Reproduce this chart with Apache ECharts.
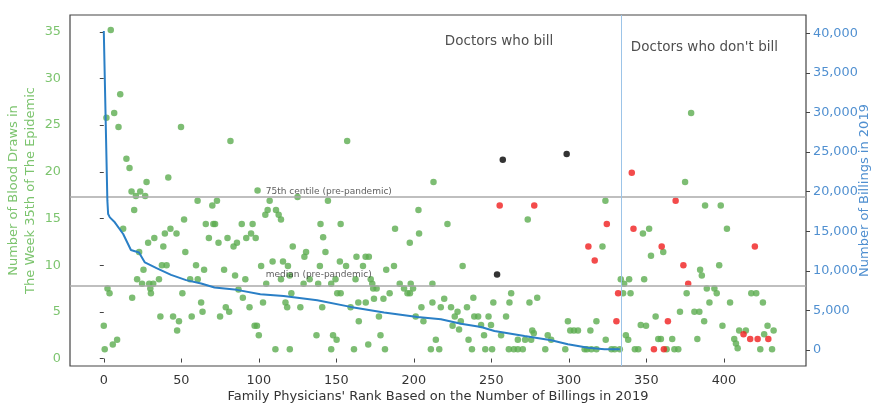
<!DOCTYPE html>
<html>
<head>
<meta charset="utf-8">
<script src="https://cdn.jsdelivr.net/npm/echarts@6/dist/echarts.min.js"></script>
<style>
html,body{margin:0;padding:0;background:#fff;}
#chart{width:873px;height:405px;}
</style>
</head>
<body>
<div id="chart"></div>
<script>
// ---- data (rank, blood draws in week 35) ----
var greenPoints = [
[4.5,35.2],[10.6,28.3],[6.7,26.3],[1.7,25.8],[9.5,24.8],[49.8,24.8],[81.7,23.3],[14.6,21.4],[16.6,20.4],[27.6,18.9],[41.6,19.4],[17.9,17.9],[20.7,17.4],[23.5,17.9],[26.7,17.4],
[60.5,16.9],[70,16.4],[73,16.9],[19.6,15.9],[12.5,13.9],[51.8,14.9],[65.8,14.4],[70.7,14.4],[71.8,14.4],[89,14.4],[96,14.4],[43,13.9],[39.4,13.4],[46.9,13.4],[32.6,12.9],[28.6,12.4],[67.8,12.9],[74,12.4],[79.8,12.9],[85.9,12.4],[83.7,12.0],[91.9,12.9],[95,13.4],[98,12.9],
[38.4,12.0],[22.8,11.4],[52.6,11.4],[37.5,10.0],[40.5,10.0],[25.6,9.5],[59.5,10.0],[64.7,9.5],[77.6,9.5],[84.7,8.9],[101.5,9.9],
[21.5,8.5],[24.7,8.0],[29.3,8.0],[31.9,8.0],[35.6,8.5],[55.7,8.5],[60.6,8.5],[91.3,8.5],[30,7.5],[30.4,7.0],[2.4,7.5],[3.7,7.0],[18.3,6.5],[50.7,7.0],[86.9,7.4],[89.7,6.5],[62.8,6.0],[63.7,5.0],[78.7,5.5],[80.9,5.0],[94,5.5],[36.5,4.5],[44.7,4.5],[48.5,4.0],[47.3,3.0],[56.7,4.5],[75,4.5],[97.3,3.5],[98.8,3.5],[100,2.5],[0,3.5],[0.6,1.0],[5.8,1.5],[8.6,2.0],
[157,23.3],[212.7,18.9],[99.2,18.0],[107,16.9],[104.2,15.4],[105.7,15.9],[111.1,15.9],[112.8,15.4],[114.3,14.9],[125,17.3],[144.6,16.9],
[139.8,14.4],[152.8,14.4],[141.5,13.0],[121.9,12.0],[187.9,13.9],[203,15.9],[203.4,13.4],[197.4,12.4],[221.7,14.4],[143,11.4],[130.5,11.4],[129.4,10.9],[108.9,10.4],[115.6,10.4],[118.8,9.9],[139.4,9.9],[152.3,10.4],[163,10.9],[168.9,10.9],[171,10.9],[156.3,9.9],[167.2,9.9],[187.2,9.9],[182.2,9.5],
[104.8,8.0],[114.3,8.5],[119.9,8.9],[128.9,8.0],[132.8,8.5],[138.3,8.0],[146.7,8.0],[149.5,8.5],[162.4,8.5],[172.2,8.5],[173.2,8.0],[173.8,7.5],[190.9,8.0],[193.7,7.5],[195.9,7.0],[197.5,7.0],[198,8.0],[199.5,7.5],[212,8.0],[121,7.0],[150.6,7.0],[152.8,7.0],[176,7.5],[174.3,6.4],[180.4,6.4],[184.4,7.0],
[102.7,6.0],[117.2,6.0],[118.3,5.5],[126.8,5.5],[140.9,5.5],[159.2,5.5],[164.2,6.0],[169,6.0],[177.5,4.5],[164.5,4.0],[201.2,4.5],[206.2,4.0],[204.9,5.5],[217.4,5.5],[219.6,6.4],[212,6.0],
[137.2,2.5],[147.9,2.5],[150.2,2.0],[170.6,1.5],[178.5,2.5],[214.2,2.0],[110.7,1.0],[120,1.0],[146.7,1.0],[161.4,1.0],[181.4,1.0],[211,1.0],[216.4,1.0],[225,3.5],
[224,5.5],[231.5,9.9],[228.2,5.0],[226.4,4.5],[229.2,3.1],[230.3,4.0],[234.3,5.5],[238.4,6.5],[239,4.5],[241.5,4.5],[243.4,3.6],[235.3,2.0],[237.5,1.0],[246.1,1.0],[250.5,1.0],[245.3,2.5],[248.2,4.5],[249.8,3.6],[251.3,6.0],[256.3,2.5],[259.5,4.5],[261.7,6.0],[262.8,7.0],[261.3,1.0],[264.5,1.0],[267.1,1.0],[270.3,1.0],[267.1,2.0],[271.8,2.0],[275.7,2.0],[276.4,3.0],[277.4,2.7],[274.6,6.0],[279.6,6.5],[284.8,1.0],[286.4,2.5],[288.6,2.0],[297.7,1.0],[299.4,4.0],[300.9,3.0],[303.3,3.0],[305.9,3.0],[313.9,3.0],[317.8,4.0],[310.2,1.0],[311.7,1.0],[314.5,1.0],[317.8,1.0],[323.8,2.0],[327.5,1.0],[329.6,1.0],[332.9,1.0],[336.8,2.5],[338.3,2.0],[342.6,1.0],[344.8,1.0],[346.4,3.6],[323.6,16.9],[273.5,14.9],[321.7,12.0],[333.5,8.5],[335.7,8.0],[338.9,8.5],[335,7.0],[339.8,7.0],
[378.9,26.3],[375,18.9],[387.9,16.4],[398,16.4],[351.8,13.9],[347.8,13.4],[402,13.9],[360.9,11.4],[353,11.0],[384.7,9.5],[385.8,8.9],[397,10.0],[348.6,8.5],[376,7.0],[389,7.5],[393.9,7.5],[395.4,7.0],[417.7,7.0],[420.9,7.0],[390.7,6.0],[404,6.0],[425.2,6.0],[371.7,5.0],[381,5.0],[384.2,5.0],[356,4.5],[387.3,4.0],[349.8,3.5],[399.1,3.5],[357.7,2.1],[359.4,2.1],[366.7,2.1],[382.9,2.1],[406.7,2.1],[407.8,1.6],[408.9,1.1],[409.9,3.0],[414.2,3.0],[426,2.6],[428.2,3.5],[432.1,3.0],[363.1,1.0],[368.1,1.0],[370.6,1.0],[423.5,1.0],[431.1,1.0]
];
var redPoints = [
[255.4,16.4],[277.7,16.4],[340.6,19.9],[324.5,14.4],[312.6,12.0],[316.7,10.5],[331.8,7.0],[330.7,4.0],[341.7,13.9],[368.9,16.9],[359.9,12.0],[420,12.0],[373.9,10.0],[377,8.0],[363.9,4.0],[354.9,1.0],[361.3,1.0],[412.7,2.6],[417,2.1],[421.8,2.1],[428.7,2.1]
];
var blackPoints = [[257.4,21.3],[298.6,21.9],[253.7,9.0]];
// ---- billings in 2019 by rank ----
var billingRank = [0,2.3,2.8,3.9,7.1,12.5,17.5,22.7,26.5,34,43.4,53.1,62.8,71.4,85.9,101,116,137.7,159.2,180.8,202.3,217.5,230.4,243.4,252,271.4,288.7,299.4,312.4,323,332.9];
var billingValue = [40300,18900,17190,16760,16130,14660,12630,12330,11060,10350,9500,8830,8400,7890,7600,7060,6840,6300,5450,4730,4180,3890,3330,2910,2410,1770,1230,720,290,90,90];
// ---- reference lines ----
var centile75 = 17.3;
var medianPre = 7.75;
var splitRank = 334;
// ---- tick labels ----
var xTicks = [0,50,100,150,200,250,300,350,400];
var yLeftTicks = [0,5,10,15,20,25,30,35];
var yRightTicks = [0,5000,10000,15000,20000,25000,30000,35000,40000];

var billingLine = billingRank.map(function(r,i){return [r,billingValue[i]];});
var FONT = 'DejaVu Sans';
var chart = echarts.init(document.getElementById('chart'));
chart.setOption({
  animation:false,
  backgroundColor:'#fff',
  textStyle:{fontFamily:FONT},
  grid:{left:70,right:67,top:15,bottom:39,containLabel:false,outerBoundsMode:'none',show:true,borderColor:'#444',borderWidth:1.2,backgroundColor:'transparent'},
  xAxis:{type:'value',min:-21.8,max:453,
    name:"Family Physicians' Rank Based on the Number of Billings in 2019",nameLocation:'middle',nameGap:24,nameMoveOverlap:false,
    nameTextStyle:{fontFamily:FONT,fontSize:13,color:'#333'},
    axisLine:{show:false},splitLine:{show:false},
    axisTick:{show:true,length:4,customValues:xTicks,lineStyle:{color:'#444'}},
    axisLabel:{customValues:xTicks,fontFamily:FONT,fontSize:12.8,color:'#333',margin:8}},
  yAxis:[
    {type:'value',min:-0.8,max:36.8,position:'left',
     name:'Number of Blood Draws in\nThe Week 35th of The Epidemic',nameLocation:'middle',nameRotate:90,nameGap:31,nameMoveOverlap:false,
     nameTextStyle:{fontFamily:FONT,fontSize:13,color:'#7cc46e',lineHeight:17,align:'center'},
     axisLine:{show:false},splitLine:{show:false},
     axisTick:{show:true,length:4,customValues:yLeftTicks,lineStyle:{color:'#444'}},
     axisLabel:{customValues:yLeftTicks,fontFamily:FONT,fontSize:12.8,color:'#7cc46e',margin:9}},
    {type:'value',min:-2015,max:42315,position:'right',
     name:'Number of Billings in 2019',nameLocation:'middle',nameRotate:90,nameGap:52,nameMoveOverlap:false,
     nameTextStyle:{fontFamily:FONT,fontSize:13,color:'#4f8fd0'},
     axisLine:{show:false},splitLine:{show:false},
     axisTick:{show:true,length:4,customValues:yRightTicks,lineStyle:{color:'#444'}},
     axisLabel:{customValues:yRightTicks,fontFamily:FONT,fontSize:12.8,color:'#4f8fd0',margin:7}}
  ],
  series:[
    {type:'scatter',data:greenPoints,symbolSize:6.5,itemStyle:{color:'#5cad50'},silent:true,z:3,
     markLine:{silent:true,symbol:'none',label:{show:false},lineStyle:{color:'#aaaaaa',width:1.5,type:'solid'},
       data:[{yAxis:centile75},{yAxis:medianPre}]}},
    {type:'scatter',data:redPoints,symbolSize:6.5,itemStyle:{color:'#f01e1e'},silent:true,z:4},
    {type:'scatter',data:blackPoints,symbolSize:6.5,itemStyle:{color:'#000'},silent:true,z:4},
    {type:'line',yAxisIndex:1,data:billingLine,showSymbol:false,symbol:'none',silent:true,z:5,
     lineStyle:{color:'#2a7fc6',width:2},
     markLine:{silent:true,symbol:'none',label:{show:false},lineStyle:{color:'#9cc4e8',width:1,type:'solid'},
       data:[{xAxis:splitRank}]}},
    {type:'scatter',symbolSize:0,silent:true,z:6,
     label:{show:true,position:'right',distance:0,fontFamily:FONT,color:'#222',formatter:function(p){return p.data.t;}},
     data:[
       {value:[220,34.0],t:'Doctors who bill',label:{fontSize:13.5}},
       {value:[340,33.3],t:"Doctors who don't bill",label:{fontSize:13.5}},
       {value:[104.5,17.9],t:'75th centile (pre-pandemic)',label:{fontSize:9,color:'#333'}},
       {value:[104.5,9.0],t:'median (pre-pandemic)',label:{fontSize:9,color:'#333'}}
     ]}
  ]
});
</script>
</body>
</html>
